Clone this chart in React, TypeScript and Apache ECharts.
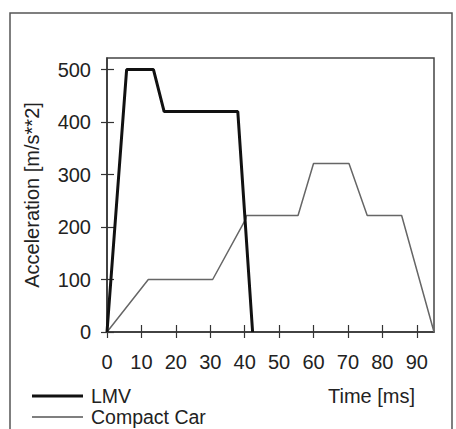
import React, { useEffect, useRef } from "react";
import * as echarts from "echarts";

const xTicks = [0, 10, 20, 30, 40, 50, 60, 70, 80, 90];
const yTicks = [0, 100, 200, 300, 400, 500];
const lmvData: [number, number][] = [
  [0, 0], [5.7, 500], [13.5, 500], [16.6, 420], [38, 420], [42.3, 0],
];
const compactData: [number, number][] = [
  [0, 0], [12, 100], [30.7, 100], [40.3, 215], [40.5, 222], [55.5, 222],
  [60, 321], [70.3, 321], [75.6, 222], [85.6, 222], [95, 0],
];
const seriesNames = ["LMV", "Compact Car"];

const FONT = "'Liberation Sans', Arial, sans-serif";

export default function App() {
  const ref = useRef<HTMLDivElement>(null);
  useEffect(() => {
    document.body.style.margin = "0";
    const chart = echarts.init(ref.current!, null, { renderer: "svg" });
    const labelStyle = { color: "#222", fontSize: 20, fontFamily: FONT };
    const legendText = { color: "#222", fontSize: 19.5, fontFamily: FONT, lineHeight: 17, padding: [0, 0, 0, 3] };
    chart.setOption({
      animation: false,
      backgroundColor: "#fff",
      grid: {
        left: 107, right: 22, top: 58, bottom: 97,
        show: true, borderColor: "#444", borderWidth: 1.5,
      },
      legend: [
        {
          data: [{ name: seriesNames[0], icon: "rect" }],
          left: 32, top: 386, itemWidth: 51, itemHeight: 3, itemGap: 0, padding: 0,
          textStyle: legendText,
          itemStyle: { color: "#111" },
        },
        {
          data: [{ name: seriesNames[1], icon: "rect" }],
          left: 32, top: 407, itemWidth: 51, itemHeight: 1.5, itemGap: 0, padding: 0,
          textStyle: legendText,
          itemStyle: { color: "#555" },
        },
      ],
      xAxis: [
        {
          type: "value", min: 0, max: 95, interval: 10,
          splitLine: { show: false },
          axisLine: { lineStyle: { color: "#333", width: 1.5 } },
          axisTick: { customValues: xTicks, length: 6, lineStyle: { color: "#333", width: 1.2 } },
          axisLabel: { customValues: xTicks, margin: 20, ...labelStyle },
        },
        {
          type: "value", min: 0, max: 95, interval: 10, position: "bottom",
          splitLine: { show: false },
          axisLine: { show: false },
          axisTick: { customValues: xTicks, inside: true, length: 7, lineStyle: { color: "#333", width: 1.2 } },
          axisLabel: { show: false },
        },
      ],
      yAxis: [
        {
          type: "value", min: 0, max: 522, interval: 100,
          name: "Acceleration [m/s**2]", nameLocation: "middle", nameGap: 65,
          nameTextStyle: labelStyle,
          splitLine: { show: false },
          axisLine: { show: true, lineStyle: { color: "#333", width: 1.5 } },
          axisTick: { show: true, customValues: yTicks, length: 6, lineStyle: { color: "#333", width: 1.2 } },
          axisLabel: { customValues: yTicks, margin: 16, ...labelStyle },
        },
        {
          type: "value", min: 0, max: 522, interval: 100, position: "left",
          splitLine: { show: false },
          axisLine: { show: false },
          axisTick: { show: true, customValues: yTicks, inside: true, length: 7, lineStyle: { color: "#333", width: 1.2 } },
          axisLabel: { show: false },
        },
      ],
      graphic: [
        {
          type: "rect", silent: true,
          shape: { x: 10, y: 13, width: 442, height: 440 },
          style: { fill: "none", stroke: "#555", lineWidth: 1.5 },
        },
        {
          type: "text", left: 328, top: 386,
          style: { text: "Time [ms]", fill: "#222", font: `20px ${FONT}` },
        },
      ],
      series: [
        {
          name: seriesNames[0], type: "line", data: lmvData, showSymbol: false,
          lineStyle: { color: "#111", width: 3 }, itemStyle: { color: "#111" },
          z: 3,
        },
        {
          name: seriesNames[1], type: "line", data: compactData, showSymbol: false,
          lineStyle: { color: "#666", width: 1.5 }, itemStyle: { color: "#555" },
          z: 2,
        },
      ],
    });
    return () => chart.dispose();
  }, []);
  return <div ref={ref} style={{ position: "fixed", left: 0, top: 0, width: 456, height: 429 }} />;
}
